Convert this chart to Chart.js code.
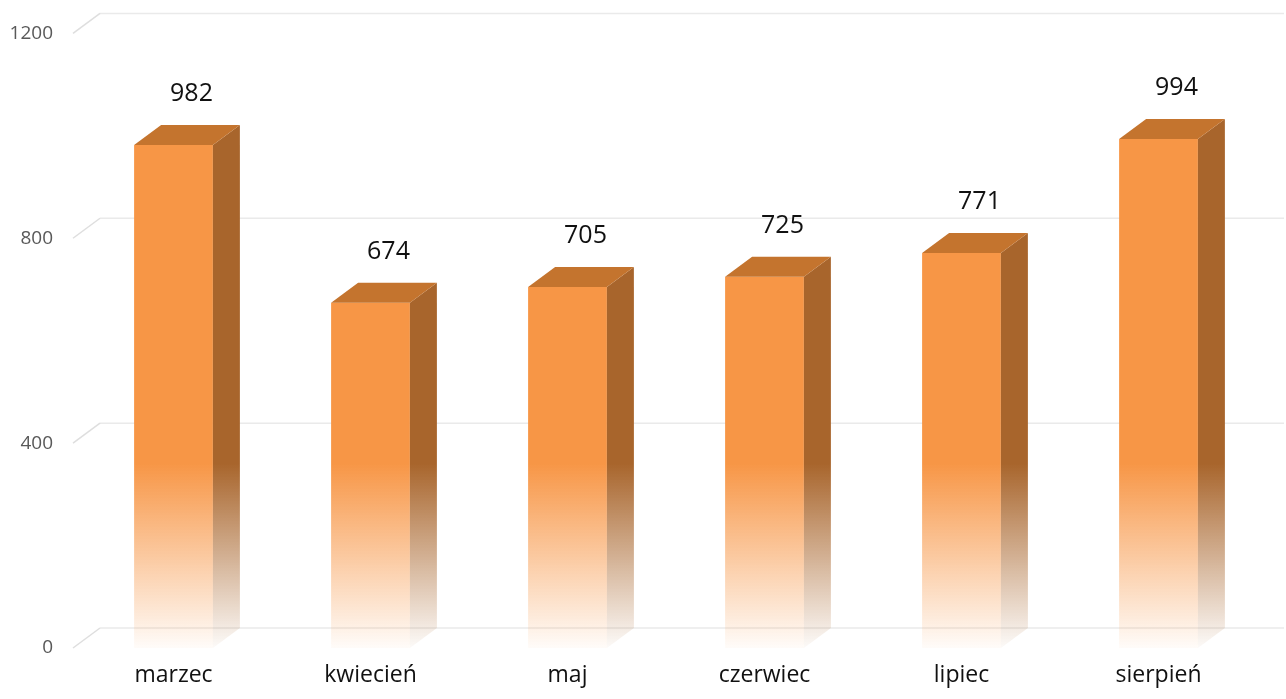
<!DOCTYPE html>
<html>
<head>
<meta charset="utf-8">
<script src="https://cdn.jsdelivr.net/npm/chart.js@4"></script>
<style>
  html, body { margin: 0; padding: 0; background: #fff; }
  #wrap { width: 1286px; height: 699px; }
</style>
</head>
<body>
<div id="wrap"><canvas id="chart" width="1286" height="699"></canvas></div>
<script>
const CATEGORIES = ["marzec", "kwiecień", "maj", "czerwiec", "lipiec", "sierpień"];
const VALUES = [982, 674, 705, 725, 771, 994];
const Y_TICKS = [0, 400, 800, 1200];

const FRONT = "247, 150, 70";
const TOP_FACE = "rgb(196, 116, 46)";
const SIDE = "168, 101, 44";
const DEPTH_X = 27;
const DEPTH_Y = -20;

// fading gradient, full colour at top, white at the floor
function fadeGradient(ctx, area, rgb) {
  const g = ctx.createLinearGradient(0, area.top, 0, area.bottom);
  g.addColorStop(0, `rgba(${rgb}, 1)`);
  g.addColorStop(0.7, `rgba(${rgb}, 1)`);
  g.addColorStop(0.87, `rgba(${rgb}, 0.45)`);
  g.addColorStop(1, `rgba(${rgb}, 0.03)`);
  return g;
}

// back wall grid lines with the perspective stub on the left
const backGrid = {
  id: "backGrid",
  beforeDatasetsDraw(chart) {
    const { ctx, chartArea, scales } = chart;
    ctx.save();
    ctx.lineWidth = 1.5;
    Y_TICKS.forEach((v) => {
      const y = scales.y.getPixelForValue(v);
      ctx.strokeStyle = "rgba(200, 200, 200, 0.6)";
      ctx.beginPath();
      ctx.moveTo(chartArea.left - 2, y);
      ctx.lineTo(chartArea.left - 2 + DEPTH_X, y + DEPTH_Y);
      ctx.stroke();
      ctx.strokeStyle = "rgba(217, 217, 217, 0.55)";
      ctx.beginPath();
      ctx.moveTo(chartArea.left - 2 + DEPTH_X, y + DEPTH_Y);
      ctx.lineTo(chartArea.right + DEPTH_X, y + DEPTH_Y);
      ctx.stroke();
    });
    ctx.restore();
  },
};

// side and top faces plus value labels
const bars3d = {
  id: "bars3d",
  afterDatasetsDraw(chart) {
    const { ctx, chartArea } = chart;
    const meta = chart.getDatasetMeta(0);
    ctx.save();
    meta.data.forEach((bar, i) => {
      const { x, y, base, width } = bar.getProps(["x", "y", "base", "width"], true);
      const l = x - width / 2;
      const r = x + width / 2;

      ctx.fillStyle = fadeGradient(ctx, chartArea, SIDE);
      ctx.beginPath();
      ctx.moveTo(r, y);
      ctx.lineTo(r + DEPTH_X, y + DEPTH_Y);
      ctx.lineTo(r + DEPTH_X, base + DEPTH_Y);
      ctx.lineTo(r, base);
      ctx.closePath();
      ctx.fill();

      ctx.fillStyle = TOP_FACE;
      ctx.beginPath();
      ctx.moveTo(l, y);
      ctx.lineTo(l + DEPTH_X, y + DEPTH_Y);
      ctx.lineTo(r + DEPTH_X, y + DEPTH_Y);
      ctx.lineTo(r, y);
      ctx.closePath();
      ctx.fill();

      ctx.fillStyle = "#111";
      ctx.font = "25px 'Open Sans'";
      ctx.textAlign = "center";
      ctx.textBaseline = "middle";
      ctx.fillText(String(VALUES[i]), x + 18, y + DEPTH_Y - 31);
    });
    ctx.restore();
  },
};

new Chart(document.getElementById("chart"), {
  type: "bar",
  data: {
    labels: CATEGORIES,
    datasets: [
      {
        data: VALUES,
        backgroundColor: (c) => {
          const area = c.chart.chartArea;
          if (!area) return `rgb(${FRONT})`;
          return fadeGradient(c.chart.ctx, area, FRONT);
        },
        borderWidth: 0,
        barPercentage: 0.4,
        categoryPercentage: 1,
      },
    ],
  },
  options: {
    responsive: false,
    animation: false,
    layout: { padding: { top: 33, right: 29, left: 0, bottom: 0 } },
    plugins: { legend: { display: false }, tooltip: { enabled: false } },
    scales: {
      y: {
        min: 0,
        max: 1200,
        afterFit: (s) => { s.width = 75; },
        afterBuildTicks: (s) => { s.ticks = Y_TICKS.map((v) => ({ value: v })); },
        grid: { display: false, drawTicks: false },
        border: { display: false },
        ticks: {
          padding: 22,
          color: "#595959",
          font: { family: "'Open Sans'", size: 19 },
          callback: (v) => String(v),
        },
      },
      x: {
        afterFit: (s) => { s.height = 51; },
        grid: { display: false, drawTicks: false },
        border: { display: false },
        ticks: {
          padding: 14,
          color: "#111",
          font: { family: "'Open Sans'", size: 23 },
        },
      },
    },
  },
  plugins: [backGrid, bars3d],
});
</script>
</body>
</html>
